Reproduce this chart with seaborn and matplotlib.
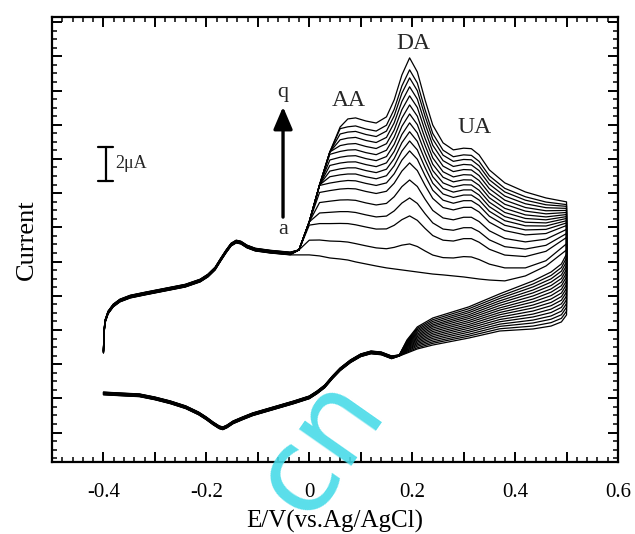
import pandas as pd
import seaborn as sns
import matplotlib.pyplot as plt
from matplotlib.ticker import MultipleLocator, FuncFormatter, NullFormatter

sns.set_theme(style="white")
plt.rcParams['font.family'] = ['Liberation Serif', 'DejaVu Serif']
plt.rcParams['axes.unicode_minus'] = False

# Cyclic voltammograms a..q (current in uA, potential in V vs. Ag/AgCl)
CURVES = list("abcdefghijklmnopq")

# forward scan, part shared by all curves (-0.40 .. -0.037 V)
E_FWD_COMMON = [-0.400, -0.399, -0.397, -0.391, -0.381, -0.368, -0.348, -0.319, -0.280,
                -0.241, -0.212, -0.197, -0.183, -0.172, -0.162, -0.152, -0.142, -0.133,
                -0.121, -0.105, -0.076, -0.037]
I_FWD_COMMON = [-1.35, -0.29, 0.41, 0.94, 1.35, 1.64, 1.87, 2.05, 2.28,
                2.51, 2.81, 3.10, 3.51, 4.04, 4.50, 4.91, 5.09, 5.03,
                4.80, 4.62, 4.50, 4.39]

# forward scan where the AA / DA / UA oxidation peaks grow
E_FWD = [-0.02, 0.0, 0.02, 0.04, 0.06, 0.075, 0.09, 0.11, 0.13, 0.15, 0.165, 0.18, 0.195,
         0.21, 0.225, 0.24, 0.26, 0.28, 0.30, 0.315, 0.33, 0.35, 0.38, 0.42, 0.46, 0.5]
fwd_a = [4.39, 4.39, 4.33, 4.21, 4.15, 4.09, 3.98, 3.86, 3.74, 3.63, 3.57, 3.51, 3.45, 3.39, 3.33, 3.27, 3.22, 3.16, 3.10, 3.04, 2.98, 2.92, 2.87, 3.16, 3.74, 4.68]
fwd_b = [4.68, 5.25, 5.26, 5.20, 5.18, 5.14, 5.05, 4.92, 4.80, 4.75, 4.83, 4.96, 5.03, 4.88, 4.62, 4.38, 4.23, 4.21, 4.29, 4.27, 4.12, 3.85, 3.63, 3.63, 4.05, 5.04]
fwd_c = [4.68, 6.13, 6.22, 6.22, 6.23, 6.22, 6.15, 6.02, 5.90, 5.91, 6.12, 6.45, 6.67, 6.41, 5.94, 5.52, 5.25, 5.20, 5.34, 5.34, 5.13, 4.72, 4.38, 4.29, 4.60, 5.41]
fwd_d = [4.68, 6.32, 6.84, 6.88, 6.92, 6.92, 6.87, 6.73, 6.61, 6.66, 6.96, 7.42, 7.72, 7.40, 6.80, 6.26, 5.90, 5.83, 5.98, 5.98, 5.75, 5.27, 4.87, 4.73, 4.95, 5.64]
fwd_e = [4.68, 6.32, 7.45, 7.53, 7.60, 7.61, 7.58, 7.43, 7.31, 7.40, 7.79, 8.38, 8.77, 8.39, 7.65, 6.99, 6.55, 6.44, 6.59, 6.59, 6.34, 5.80, 5.35, 5.15, 5.31, 5.88]
fwd_f = [4.68, 6.32, 8.04, 8.15, 8.24, 8.27, 8.25, 8.10, 7.98, 8.11, 8.58, 9.29, 9.77, 9.32, 8.46, 7.69, 7.16, 7.02, 7.17, 7.17, 6.90, 6.30, 5.81, 5.56, 5.64, 6.11]
fwd_g = [4.68, 6.32, 8.45, 8.59, 8.69, 8.74, 8.72, 8.57, 8.45, 8.60, 9.13, 9.93, 10.47, 9.98, 9.03, 8.17, 7.59, 7.41, 7.56, 7.56, 7.28, 6.65, 6.12, 5.85, 5.88, 6.26]
fwd_h = [4.68, 6.32, 8.48, 8.96, 9.07, 9.12, 9.12, 8.96, 8.84, 9.02, 9.60, 10.46, 11.05, 10.53, 9.50, 8.58, 7.95, 7.75, 7.89, 7.89, 7.60, 6.94, 6.39, 6.09, 6.08, 6.39]
fwd_i = [4.68, 6.32, 8.48, 9.29, 9.42, 9.48, 9.48, 9.32, 9.20, 9.40, 10.02, 10.95, 11.59, 11.03, 9.94, 8.96, 8.28, 8.06, 8.19, 8.19, 7.89, 7.21, 6.63, 6.30, 6.26, 6.52]
fwd_j = [4.68, 6.32, 8.48, 9.62, 9.76, 9.82, 9.83, 9.67, 9.55, 9.77, 10.44, 11.43, 12.11, 11.52, 10.36, 9.32, 8.60, 8.36, 8.49, 8.48, 8.17, 7.47, 6.87, 6.52, 6.44, 6.63]
fwd_k = [4.68, 6.32, 8.48, 9.94, 10.10, 10.17, 10.19, 10.02, 9.90, 10.14, 10.85, 11.91, 12.63, 12.01, 10.79, 9.69, 8.93, 8.66, 8.78, 8.77, 8.46, 7.73, 7.11, 6.73, 6.61, 6.75]
fwd_l = [4.68, 6.32, 8.48, 10.27, 10.44, 10.52, 10.54, 10.37, 10.25, 10.51, 11.27, 12.39, 13.16, 12.50, 11.21, 10.06, 9.25, 8.95, 9.08, 9.06, 8.74, 7.99, 7.35, 6.95, 6.79, 6.87]
fwd_m = [4.68, 6.32, 8.48, 10.41, 10.78, 10.87, 10.90, 10.73, 10.61, 10.89, 11.69, 12.88, 13.69, 13.01, 11.65, 10.43, 9.58, 9.26, 9.38, 9.36, 9.03, 8.26, 7.59, 7.16, 6.97, 6.99]
fwd_n = [4.68, 6.32, 8.48, 10.41, 11.12, 11.22, 11.26, 11.08, 10.96, 11.26, 12.11, 13.36, 14.22, 13.50, 12.07, 10.80, 9.90, 9.56, 9.68, 9.65, 9.32, 8.52, 7.83, 7.38, 7.15, 7.11]
fwd_o = [4.68, 6.32, 8.48, 10.41, 11.46, 11.57, 11.61, 11.43, 11.31, 11.63, 12.52, 13.84, 14.74, 13.99, 12.50, 11.16, 10.22, 9.86, 9.97, 9.95, 9.60, 8.78, 8.07, 7.59, 7.32, 7.23]
fwd_p = [4.68, 6.32, 8.48, 10.41, 11.77, 11.88, 11.93, 11.75, 11.63, 11.97, 12.90, 14.27, 15.21, 14.44, 12.88, 11.49, 10.51, 10.13, 10.24, 10.21, 9.86, 9.01, 8.28, 7.79, 7.48, 7.33]
fwd_q = [4.68, 6.32, 8.48, 10.41, 11.87, 12.34, 12.40, 12.22, 12.10, 12.46, 13.45, 14.91, 15.91, 15.09, 13.45, 11.98, 10.94, 10.53, 10.63, 10.60, 10.24, 9.36, 8.60, 8.07, 7.72, 7.49]

# reverse scan, fanned-out part (0.50 .. 0.175 V)
E_REV = [0.5, 0.49, 0.47, 0.435, 0.37, 0.31, 0.24, 0.21, 0.19, 0.175]
rev_a = [4.44, 3.86, 3.39, 2.87, 2.11, 1.35, 0.70, 0.18, -0.58, -1.46]
rev_b = [4.22, 3.65, 3.19, 2.69, 1.97, 1.24, 0.60, 0.10, -0.63, -1.46]
rev_c = [3.99, 3.44, 2.99, 2.52, 1.84, 1.12, 0.50, 0.02, -0.68, -1.47]
rev_d = [3.77, 3.22, 2.80, 2.34, 1.70, 1.01, 0.40, -0.06, -0.72, -1.47]
rev_e = [3.55, 3.01, 2.60, 2.17, 1.57, 0.89, 0.30, -0.14, -0.77, -1.48]
rev_f = [3.33, 2.80, 2.40, 1.99, 1.43, 0.78, 0.21, -0.23, -0.82, -1.48]
rev_g = [3.11, 2.59, 2.21, 1.81, 1.29, 0.67, 0.11, -0.31, -0.87, -1.48]
rev_h = [2.88, 2.38, 2.01, 1.64, 1.16, 0.55, 0.01, -0.39, -0.92, -1.49]
rev_i = [2.66, 2.16, 1.81, 1.46, 1.02, 0.44, -0.09, -0.47, -0.96, -1.49]
rev_j = [2.44, 1.95, 1.61, 1.29, 0.89, 0.32, -0.19, -0.55, -1.01, -1.50]
rev_k = [2.22, 1.74, 1.42, 1.11, 0.75, 0.21, -0.29, -0.63, -1.06, -1.50]
rev_l = [1.99, 1.53, 1.22, 0.93, 0.61, 0.10, -0.39, -0.71, -1.11, -1.50]
rev_m = [1.77, 1.32, 1.02, 0.76, 0.48, -0.02, -0.49, -0.79, -1.16, -1.51]
rev_n = [1.55, 1.10, 0.82, 0.58, 0.34, -0.13, -0.59, -0.87, -1.20, -1.51]
rev_o = [1.33, 0.89, 0.63, 0.41, 0.21, -0.25, -0.69, -0.95, -1.25, -1.52]
rev_p = [1.10, 0.68, 0.43, 0.23, 0.07, -0.36, -0.78, -1.04, -1.30, -1.52]
rev_q = [0.88, 0.47, 0.23, 0.06, -0.06, -0.47, -0.88, -1.11, -1.35, -1.52]

# reverse scan, part shared by all curves (0.16 .. -0.40 V)
E_REV_COMMON = [0.16, 0.14, 0.12, 0.10, 0.08, 0.06, 0.045, 0.03, 0.015, 0.0, -0.03, -0.07,
                -0.11, -0.13, -0.148, -0.16, -0.168, -0.175, -0.187, -0.20, -0.215, -0.24,
                -0.27, -0.30, -0.33, -0.37, -0.40]
I_REV_COMMON = [-1.52, -1.29, -1.23, -1.40, -1.75, -2.22, -2.69, -3.22, -3.57, -3.86, -4.15, -4.50,
                -4.85, -5.09, -5.32, -5.56, -5.67, -5.61, -5.38, -5.09, -4.80, -4.44,
                -4.15, -3.92, -3.74, -3.68, -3.63]

# small cycle-to-cycle spread of the shared segments
SPREAD = [0.00, 0.01, 0.02, 0.03, 0.04, 0.05, 0.06, 0.07, 0.08,
          0.09, 0.10, 0.11, 0.12, 0.13, 0.14, 0.15, 0.16]

FWD = dict(zip(CURVES, [fwd_a, fwd_b, fwd_c, fwd_d, fwd_e, fwd_f, fwd_g, fwd_h, fwd_i,
                        fwd_j, fwd_k, fwd_l, fwd_m, fwd_n, fwd_o, fwd_p, fwd_q]))
REV = dict(zip(CURVES, [rev_a, rev_b, rev_c, rev_d, rev_e, rev_f, rev_g, rev_h, rev_i,
                        rev_j, rev_k, rev_l, rev_m, rev_n, rev_o, rev_p, rev_q]))

rows = []
for idx, name in enumerate(CURVES):
    pot = E_FWD_COMMON + E_FWD + E_REV + E_REV_COMMON
    cur = ([v + SPREAD[idx] for v in I_FWD_COMMON] + FWD[name] + REV[name]
           + [v - SPREAD[idx] for v in I_REV_COMMON])
    for step, (e, i) in enumerate(zip(pot, cur)):
        rows.append((name, step, e, i))
df = pd.DataFrame(rows, columns=["curve", "step", "E", "I"])

fig = plt.figure(figsize=(6.35, 5.34), dpi=100)
ax = fig.add_axes([52 / 635, 72 / 534, 566 / 635, 445 / 534])

sns.lineplot(data=df, x="E", y="I", units="curve", estimator=None, sort=False,
             color="black", lw=0.9, ax=ax, legend=False)
for ln in ax.get_lines():
    ln.set_solid_joinstyle("round")

ax.set_xlim(-0.5, 0.6)
ax.set_ylim(-7.72, 18.30)

for s in ax.spines.values():
    s.set_linewidth(1.6)
    s.set_color("black")

ax.xaxis.set_major_locator(MultipleLocator(0.1))
ax.xaxis.set_minor_locator(MultipleLocator(0.02))
ax.yaxis.set_major_locator(MultipleLocator(2))
ax.yaxis.set_minor_locator(MultipleLocator(0.5))


def xfmt(v, pos):
    k = int(round(v * 10))
    if k % 2 != 0 or k <= -5:
        return ""
    if k == 0:
        return "0"
    return f"{v:.1f}"


ax.xaxis.set_major_formatter(FuncFormatter(xfmt))
ax.yaxis.set_major_formatter(NullFormatter())
ax.tick_params(which="both", direction="in", top=True, right=True, bottom=True, left=True,
               color="black", labelsize=15, labelcolor="black")
ax.tick_params(which="major", length=7, width=1.4)
ax.tick_params(which="minor", length=3.5, width=1.1)
ax.tick_params(axis="x", which="major", pad=15)
ax.tick_params(axis="y", which="major", pad=2)

ax.set_xlabel("E/V(vs.Ag/AgCl)", fontsize=18, labelpad=6, color="black")
ax.set_ylabel("Current", fontsize=19, labelpad=7, color="black")
ax.grid(False)

# peak labels
ax.text(0.077, 13.39, "AA", fontsize=17, ha="center", va="center")
ax.text(0.2016, 16.73, "DA", fontsize=17, ha="center", va="center")
ax.text(0.322, 11.81, "UA", fontsize=17, ha="center", va="center")

# growth arrow a -> q
ax.annotate("", xy=(-0.051, 13.05), xytext=(-0.051, 6.6),
            arrowprops=dict(arrowstyle="-|>,head_width=0.32,head_length=0.75",
                            lw=2.4, color="black", mutation_scale=18, shrinkA=0, shrinkB=0))
ax.text(-0.051, 13.9, "q", fontsize=16, ha="center", va="center")
ax.text(-0.051, 5.85, "a", fontsize=16, ha="center", va="center")

# 2 uA scale bar
ax.plot([-0.396, -0.396], [8.7, 10.7], color="black", lw=1.6)
ax.plot([-0.41, -0.382], [10.7, 10.7], color="black", lw=1.6)
ax.plot([-0.41, -0.382], [8.7, 8.7], color="black", lw=1.6)
ax.text(-0.378, 9.75, "2μA", fontsize=13, ha="left", va="center")

fig.text(320 / 635, 1 - 446 / 534, "cn", rotation=55, color="#48dbe8", alpha=0.9,
         fontsize=84, family="DejaVu Sans", ha="center", va="center", zorder=10)

fig.savefig("out.png", dpi=100, facecolor="white")
